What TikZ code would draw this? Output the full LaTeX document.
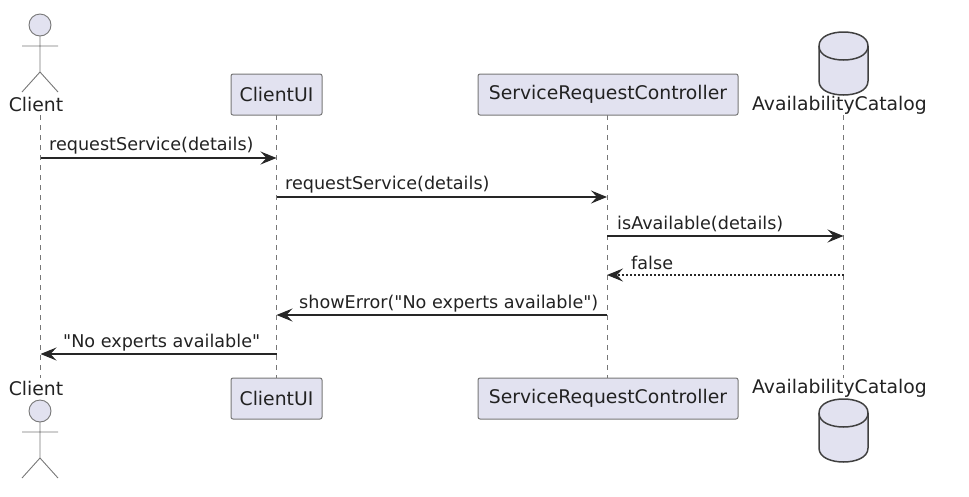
\documentclass[tikz,border=0pt]{standalone}
\usepackage{fontspec}
\setmainfont{DejaVu Sans}[Ligatures=TeXOff]
\usetikzlibrary{arrows.meta}
\definecolor{partfill}{HTML}{E2E2F0}
\definecolor{partline}{HTML}{777777}
\definecolor{inktext}{HTML}{222222}
\tikzset{
  partbox/.style = {draw = partline, fill = partfill, rounded corners = 2pt, line width = 1pt, minimum height = 41pt, inner sep = 0pt, text = inktext, font = \fontsize{18.8}{22}\selectfont},
  partname/.style = {inner sep = 0pt, text = inktext, font = \fontsize{18.8}{22}\selectfont},
  msgname/.style = {inner sep = 0pt, anchor = base west, text = inktext, font = \fontsize{17.6}{21}\selectfont},
  msgline/.style = {draw = black!85, line width = 1.3pt, -{Stealth[length = 16pt, width = 13pt, inset = 6pt]}},
  msgcall/.style = {solid},
  msgreturn/.style = {dash pattern = on 2pt off 2pt},
  lifeline/.style = {draw = partline, line width = 0.9pt, dash pattern = on 5pt off 5pt},
  actorline/.style = {draw = partline, line width = 0.9pt},
  dbline/.style = {draw = black!75, line width = 1.5pt, fill = partfill}
}
\begin{document}
\begin{tikzpicture}[x = 1pt, y = -1pt]
\useasboundingbox (0,0) rectangle (969,496);
\foreach \n/\xpos in {client/40.5,ui/276.5,ctrl/607,catalog/843.5} {
  \coordinate (\n top) at (\xpos,115);
  \coordinate (\n bot) at (\xpos,378);
  \draw [lifeline] (\n top) -- (\n bot);
}
\node [partbox, minimum width = 91pt] (uiHead) at (276.5,94.5) {ClientUI};
\node [partbox, minimum width = 91pt] (uiFoot) at (276.5,398.5) {ClientUI};
\node [partbox, minimum width = 260pt] (ctrlHead) at (608,94.5) {ServiceRequestController};
\node [partbox, minimum width = 260pt] (ctrlFoot) at (608,398.5) {ServiceRequestController};
\foreach \ytop in {14,400} {
  \draw [actorline, fill = partfill] (40,\ytop+11) circle (11);
  \draw [actorline] (40,\ytop+22) -- (40,\ytop+58) (22,\ytop+32) -- (58,\ytop+32) (22,\ytop+78) -- (40,\ytop+58) -- (58,\ytop+78);
}
\foreach \ytop in {32,399} {
  \draw [dbline] (819,\ytop+14) .. controls (819,\ytop+4) and (832,\ytop) .. (843.5,\ytop) .. controls (855,\ytop) and (868,\ytop+4) .. (868,\ytop+14) -- (868,\ytop+49) .. controls (868,\ytop+59) and (855,\ytop+63) .. (843.5,\ytop+63) .. controls (832,\ytop+63) and (819,\ytop+59) .. (819,\ytop+49) -- cycle;
  \draw [dbline, fill = none] (819,\ytop+14) .. controls (819,\ytop+24) and (832,\ytop+28) .. (843.5,\ytop+28) .. controls (855,\ytop+28) and (868,\ytop+24) .. (868,\ytop+14);
}
\node [partname] (clientHead) at (36,104) {Client};
\node [partname] (clientFoot) at (36,388) {Client};
\node [partname] (catalogHead) at (839.5,105) {AvailabilityCatalog};
\node [partname] (catalogFoot) at (839.5,388) {AvailabilityCatalog};
\foreach \n/\a/\b/\ypos/\kind in {
  1/client/ui/158/msgcall,
  2/ui/ctrl/197/msgcall,
  3/ctrl/catalog/236/msgcall,
  4/catalog/ctrl/275/msgreturn,
  5/ctrl/ui/315/msgcall,
  6/ui/client/354/msgcall} {
  \coordinate (m\n from) at (\a top |- 0,\ypos);
  \coordinate (m\n to) at (\b top |- 0,\ypos);
  \draw [msgline, \kind] (m\n from) -- (m\n to);
}
\node [msgname] (m1name) at (49,150) {requestService(details)};
\node [msgname] (m2name) at (285,189.5) {requestService(details)};
\node [msgname] (m3name) at (617,229) {isAvailable(details)};
\node [msgname] (m4name) at (631,269) {false};
\node [msgname] (m5name) at (299,308) {showError("No experts available")};
\node [msgname] (m6name) at (63,347) {"No experts available"};
\end{tikzpicture}
\end{document}
